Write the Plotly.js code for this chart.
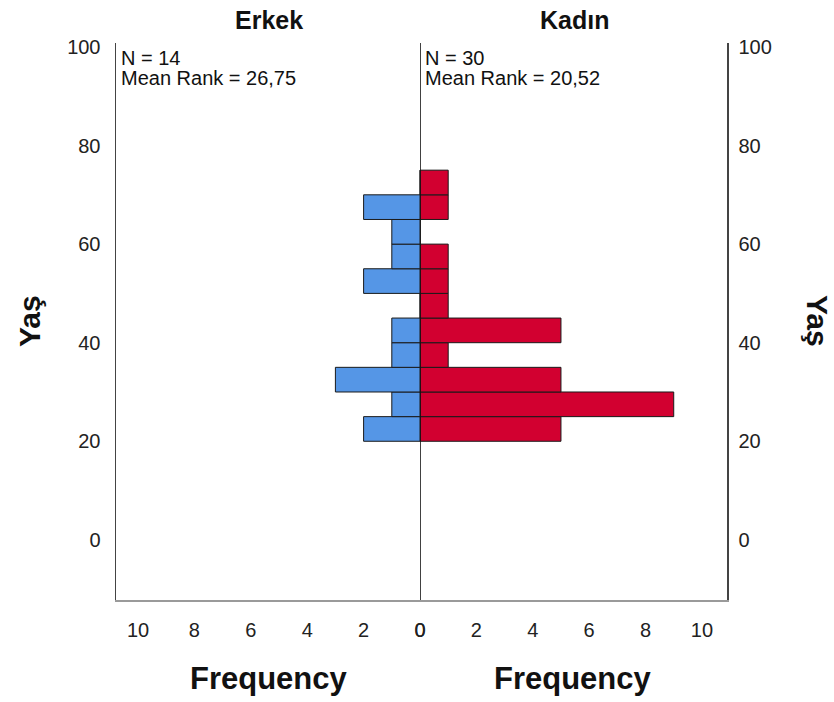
<!DOCTYPE html>
<html>
<head>
<meta charset="utf-8">
<script src="https://cdn.plot.ly/plotly-3.0.1.min.js"></script>
<style>html,body{margin:0;padding:0;background:#fff;}#chart{width:834px;height:702px;}</style>
</head>
<body>
<div id="chart"></div>
<script>
// ---- data ----
const binStarts = [20, 25, 30, 35, 40, 45, 50, 55, 60, 65, 70];
const binWidth = 5;
const erkekCounts = [2, 1, 3, 1, 1, 0, 2, 1, 1, 2, 0];
const kadinCounts = [5, 9, 5, 1, 5, 1, 1, 1, 0, 1, 1];
const groupNames = ["Erkek", "Kadın"];
const groupN = [14, 30];
const meanRanks = ["26,75", "20,52"];
const yTicks = [0, 20, 40, 60, 80, 100];
const xTicks = [0, 2, 4, 6, 8, 10];
const yLabel = "Yaş";
const xLabel = "Frequency";

// ---- layout geometry (pixels) ----
const W = 834, H = 702;
const L = 116, R = 727, T = 43, B = 600, MID = 420;
const pw = R - L, ph = B - T;
const px = x => (x - L) / pw;
const py = y => (B - y) / ph;

const centers = binStarts.map(s => s + binWidth / 2);
const FONT = "Liberation Sans, Arial, sans-serif";

const barLine = {color: "#1a1a1a", width: 1};

const traces = [
  {type: "bar", orientation: "h", x: erkekCounts, y: centers, width: binWidth,
   xaxis: "x", yaxis: "y", marker: {color: "#5596E6", line: barLine},
   hoverinfo: "x+y", showlegend: false},
  {type: "bar", orientation: "h", x: kadinCounts, y: centers, width: binWidth,
   xaxis: "x2", yaxis: "y2", marker: {color: "#D20030", line: barLine},
   hoverinfo: "x+y", showlegend: false}
];

const tickFont = {family: FONT, size: 20, color: "#222"};
const yRange = [-12.2, 100.8];

const layout = {
  width: W, height: H,
  margin: {l: L, r: W - R, t: T, b: H - B, pad: 0},
  paper_bgcolor: "#fff", plot_bgcolor: "#fff",
  showlegend: false,
  bargap: 0,
  xaxis: {domain: [0, px(MID)], range: [10.78, 0], tickvals: xTicks, ticks: "",
          showgrid: false, zeroline: false, showline: true, linecolor: "#9a9a9a", linewidth: 1.5,
          tickfont: tickFont, ticklabelstandoff: 11, anchor: "y", automargin: false, fixedrange: true},
  xaxis2: {domain: [px(MID), 1], range: [0, 10.89], tickvals: xTicks, ticks: "",
          showgrid: false, zeroline: false, showline: true, linecolor: "#9a9a9a", linewidth: 1.5,
          tickfont: tickFont, ticklabelstandoff: 11, anchor: "y2", automargin: false, fixedrange: true},
  yaxis: {range: yRange, tickvals: yTicks, ticks: "", side: "left", anchor: "x",
          showgrid: false, zeroline: false, showline: true, linecolor: "#444", linewidth: 1.5,
          tickfont: tickFont, ticklabelstandoff: 10, automargin: false, fixedrange: true},
  yaxis2: {range: yRange, tickvals: yTicks, ticks: "", side: "right", anchor: "x2",
          showgrid: false, zeroline: false, showline: true, linecolor: "#444", linewidth: 1.5,
          tickfont: tickFont, ticklabelstandoff: 6, automargin: false, fixedrange: true},
  shapes: [
    {type: "line", xref: "x2", yref: "paper", x0: 0, x1: 0, y0: 0, y1: 1,
     line: {color: "#111", width: 1.6}, layer: "above"}
  ],
  annotations: [
    {text: "<b>" + groupNames[0] + "</b>", xref: "paper", yref: "paper", x: px(269), y: py(20),
     showarrow: false, font: {family: FONT, size: 25, color: "#111"}, xanchor: "center", yanchor: "middle"},
    {text: "<b>" + groupNames[1] + "</b>", xref: "paper", yref: "paper", x: px(574), y: py(20),
     showarrow: false, font: {family: FONT, size: 25, color: "#111"}, xanchor: "center", yanchor: "middle"},
    {text: "N = " + groupN[0], xref: "paper", yref: "paper", x: px(119), y: py(58),
     showarrow: false, font: {family: FONT, size: 20, color: "#111"}, xanchor: "left", yanchor: "middle"},
    {text: "Mean Rank = " + meanRanks[0], xref: "paper", yref: "paper", x: px(119), y: py(78),
     showarrow: false, font: {family: FONT, size: 20, color: "#111"}, xanchor: "left", yanchor: "middle"},
    {text: "N = " + groupN[1], xref: "paper", yref: "paper", x: px(423), y: py(58),
     showarrow: false, font: {family: FONT, size: 20, color: "#111"}, xanchor: "left", yanchor: "middle"},
    {text: "Mean Rank = " + meanRanks[1], xref: "paper", yref: "paper", x: px(423), y: py(78),
     showarrow: false, font: {family: FONT, size: 20, color: "#111"}, xanchor: "left", yanchor: "middle"},
    {text: "<b>" + xLabel + "</b>", xref: "paper", yref: "paper", x: px(269), y: py(679),
     showarrow: false, font: {family: FONT, size: 31, color: "#111"}, xanchor: "center", yanchor: "middle"},
    {text: "<b>" + xLabel + "</b>", xref: "paper", yref: "paper", x: px(573), y: py(679),
     showarrow: false, font: {family: FONT, size: 31, color: "#111"}, xanchor: "center", yanchor: "middle"},
    {text: "<b>" + yLabel + "</b>", xref: "paper", yref: "paper", x: px(29), y: py(321), textangle: -90,
     showarrow: false, font: {family: FONT, size: 30, color: "#111"}, xanchor: "center", yanchor: "middle"},
    {text: "<b>" + yLabel + "</b>", xref: "paper", yref: "paper", x: px(818), y: py(321), textangle: 90,
     showarrow: false, font: {family: FONT, size: 30, color: "#111"}, xanchor: "center", yanchor: "middle"}
  ]
};

Plotly.newPlot("chart", traces, layout, {displayModeBar: false, staticPlot: true});
</script>
</body>
</html>
